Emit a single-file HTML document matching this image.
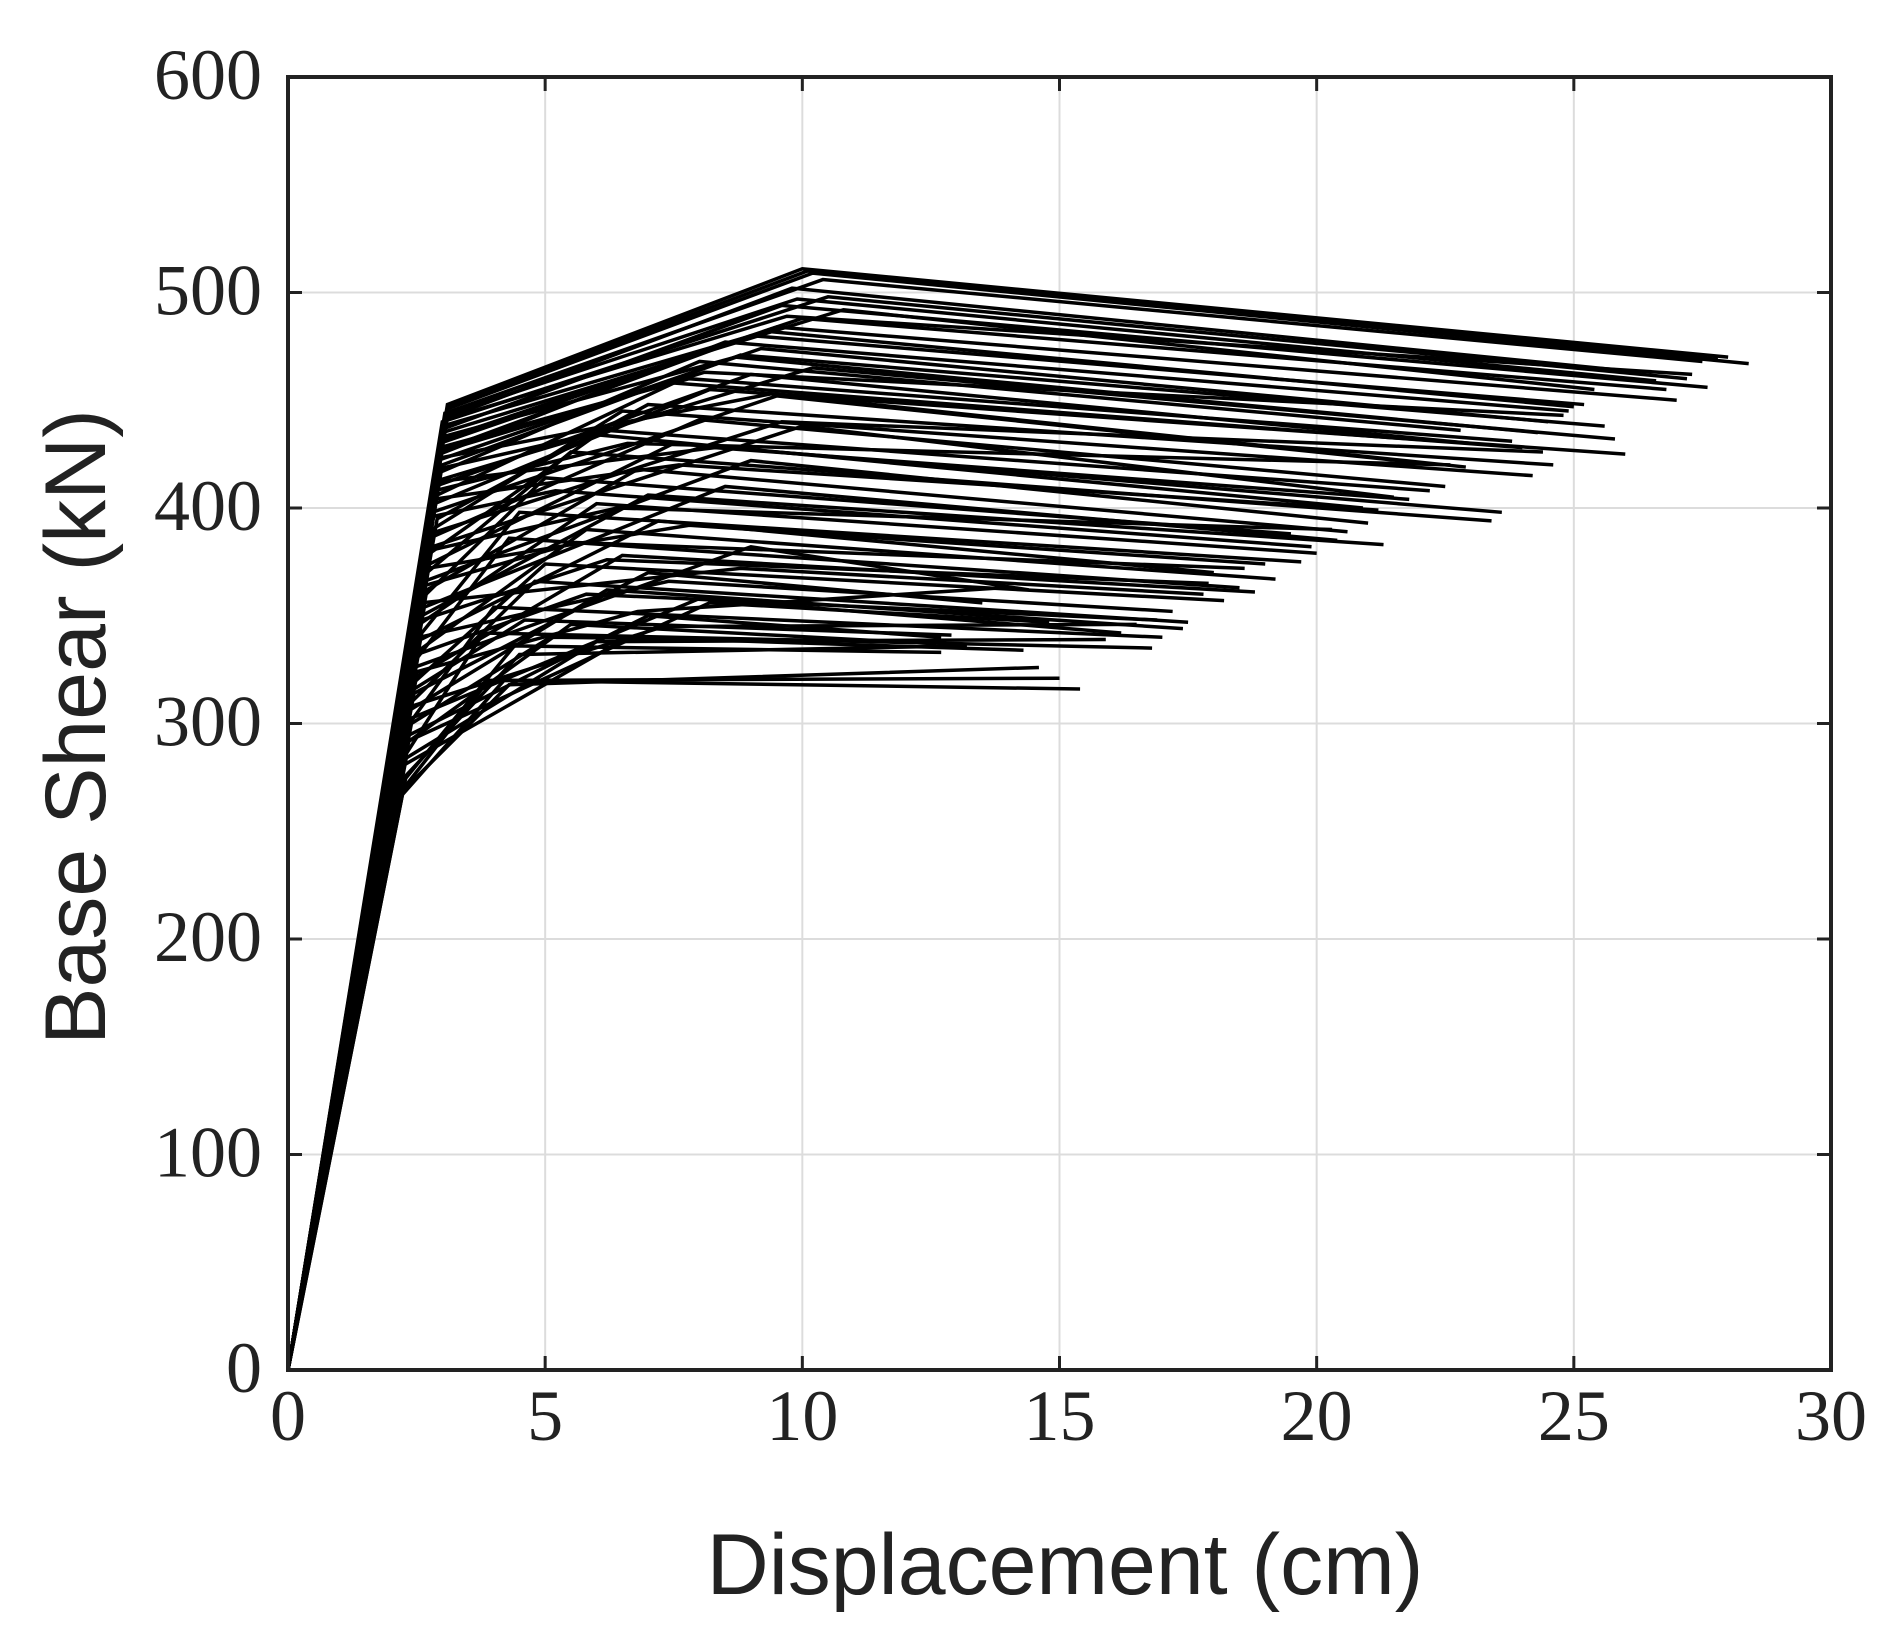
<!DOCTYPE html>
<html><head><meta charset="utf-8"><style>
html,body{margin:0;padding:0;background:#fff;}
svg{display:block;}
</style></head><body>
<svg id="chart" width="1899" height="1626" viewBox="0 0 1899 1626" xmlns="http://www.w3.org/2000/svg">
<rect width="1899" height="1626" fill="#fff"/>
<g id="grid"></g>
<g id="curves"></g>
<g id="axes"></g>
<text x="1065" y="1594" font-family="Liberation Sans, sans-serif" font-size="86" text-anchor="middle" fill="#222">Displacement (cm)</text>
<text transform="translate(105,727) rotate(-90)" font-family="Liberation Sans, sans-serif" font-size="86" text-anchor="middle" fill="#222">Base Shear (kN)</text>
</svg>
<script>
const xTicks=[0,5,10,15,20,25,30];
const yTicks=[0,100,200,300,400,500,600];
const yieldD=[3.1,3.1,3.05,3.1,3.0,3.05,3.0,3.0,2.95,3.0,2.95,2.9,3.0,2.9,2.95,2.85,2.9,2.85,2.8,2.9,2.8,2.75,2.8,2.7,2.75,2.7,2.65,2.7,2.6,2.65,2.6,2.55,2.6,2.5,2.55,2.5,2.45,2.5,2.4,2.45,2.4,2.35,2.35,2.3,2.3,2.25,2.3,2.2,2.2,2.15,
3.1,3.05,3.0,3.0,2.95,2.9,2.9,2.85,2.8,2.8,2.75,2.7,2.7,2.65,2.6,2.6,2.55,2.5,2.5,2.45,2.4,2.4,2.35,2.3,2.3,2.25,2.2,3.05,2.95,2.85];
const yieldV=[448,446,444,442,440,437,435,432,430,427,425,422,420,416,413,410,406,402,398,395,390,386,382,378,374,370,366,362,358,354,350,346,342,338,334,330,326,322,318,314,310,306,302,298,294,290,286,280,272,265,
447,443,438,433,428,423,418,412,404,396,388,380,372,364,356,348,340,332,324,316,308,300,292,284,276,270,268,441,426,408];
const peakD=[10,10.2,10.4,9.8,10.5,9.6,10.8,10,9.5,9,8.5,9.2,8.8,8,10.2,9,7.5,8.2,9.5,7,6.5,8,10,6,7.5,5.5,9,6.8,5,8.5,7,6,4.5,7.2,5.8,4.3,9,6.5,5,7,4.8,6.2,8,4,7,5.5,3.8,6.6,4.4,4.2,
10.1,9.9,9.3,8.7,7.8,9.4,6.2,8.3,7.6,5.2,9.6,6.4,7.8,5.6,8.8,6.2,7.4,5.8,6.8,4.6,7.3,5.1,8.2,6.0,4.5,3.9,4.3,9.7,8.1,6.6];
const peakV=[511,509,506,502,498,494,492,488,484,480,477,474,471,468,465,462,458,455,452,448,445,441,438,434,430,426,422,418,414,410,406,402,398,394,390,386,382,378,374,370,366,362,358,354,350,346,342,340,336,320,
510,497,482,470,460,453,436,428,420,408,440,400,392,384,372,376,366,360,352,348,345,340,356,338,332,320,318,489,463,430];
const endD=[28.0,28.4,27.5,26.3,27.2,27.6,25.4,26.8,27.0,25.2,24.9,24.5,25.6,22.8,25.8,23.0,24.0,26.0,22.0,24.6,24.2,22.5,21.5,20.9,23.6,23.4,21.0,20.6,19.5,20.4,21.3,20.0,19.7,18.0,19.2,18.5,14.4,18.8,18.2,13.5,17.5,17.4,16.2,17.0,12.7,12.6,16.8,14.3,12.7,15.4,
27.8,26.6,25.0,24.3,23.8,22.9,22.2,21.8,21.2,19.9,24.4,20.3,19.0,18.6,17.8,17.9,17.2,16.9,13.9,12.9,16.5,12.8,14.8,15.9,13.2,15.0,14.6,27.3,24.8,22.6];
const endV=[470,467,468,463,460,456,455,455,450,448,445,440,438,436,432,430,428,425,421,420,415,410,405,400,398,394,393,389,388,385,383,379,375,370,367,363,362,361,357,356,347,344,342,340,340,337,335,334,333,316,
469,459,447,435,431,419,408,404,399,382,426,390,374,372,360,365,352,348,363,341,346,338,347,339,336,321,326,462,443,420];

const L=288,R=1831,T=77,B=1370;
const sx=d=>L+(d-0)/(30-0)*(R-L);
const sy=v=>B-(v-0)/(600-0)*(B-T);
const NS='http://www.w3.org/2000/svg';
function mk(tag,attrs,parent){const e=document.createElementNS(NS,tag);for(const k in attrs)e.setAttribute(k,attrs[k]);parent.appendChild(e);return e;}
const grid=document.getElementById('grid'),axes=document.getElementById('axes'),curves=document.getElementById('curves');
xTicks.forEach(t=>{
  const x=sx(t);
  if(t>0&&t<30){const g=mk('line',{x1:x,x2:x,y1:T,y2:B,stroke:'#dcdcdc','stroke-width':2},grid);
  
  }
  const tk=mk('path',{d:`M${x},${B}v-14M${x},${T}v14`,stroke:'#222','stroke-width':3},axes);
  
  
  const lb=mk('text',{x:x,y:1440,'font-family':'Liberation Serif, serif','font-size':72,'text-anchor':'middle',fill:'#222'},axes);
  lb.textContent=t;
  
  
});
yTicks.forEach(t=>{
  const y=sy(t);
  if(t>0&&t<600){const g=mk('line',{x1:L,x2:R,y1:y,y2:y,stroke:'#dcdcdc','stroke-width':2},grid);
  
  }
  const tk=mk('path',{d:`M${L},${y}h14M${R},${y}h-14`,stroke:'#222','stroke-width':3},axes);
  
  
  const lb=mk('text',{x:262,y:y+22,'font-family':'Liberation Serif, serif','font-size':72,'text-anchor':'end',fill:'#222'},axes);
  lb.textContent=t;
  
  
});
const frame=mk('rect',{x:L,y:T,width:R-L,height:B-T,fill:'none',stroke:'#222','stroke-width':4},axes);


for(let i=0;i<endD.length;i++){
  const p=mk('polyline',{points:`${sx(0)},${sy(0)} ${sx(yieldD[i])},${sy(yieldV[i])} ${sx(peakD[i])},${sy(peakV[i])} ${sx(endD[i])},${sy(endV[i])}`,fill:'none',stroke:'#000','stroke-width':3.5,'stroke-linejoin':'miter'},curves);
  
  
}
</script>
</body></html>
